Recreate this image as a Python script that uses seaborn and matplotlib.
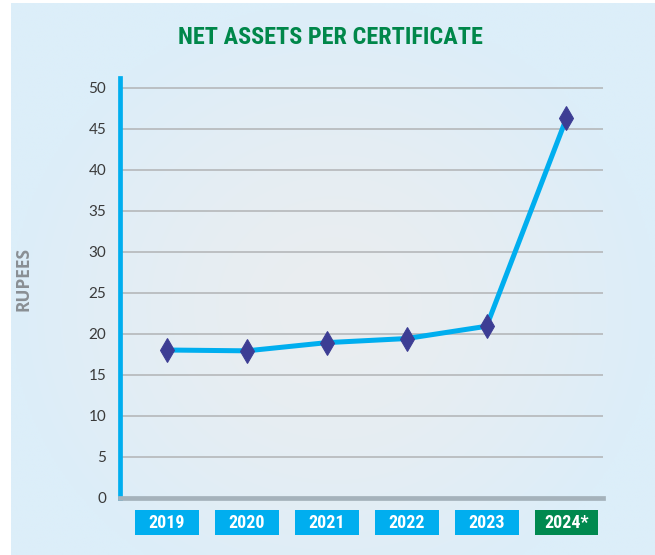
import numpy as np
import matplotlib
matplotlib.use("Agg")
import matplotlib.pyplot as plt
import matplotlib.transforms as mtransforms
from matplotlib.patches import Rectangle
import seaborn as sns
import pandas as pd

# Data
years = ["2019", "2020", "2021", "2022", "2023", "2024*"]
net_assets = [18.0, 17.9, 18.9, 19.4, 20.9, 46.3]
y_ticks = [0, 5, 10, 15, 20, 25, 30, 35, 40, 45, 50]
box_colors = ["#00aeef", "#00aeef", "#00aeef", "#00aeef", "#00aeef", "#00894f"]

df = pd.DataFrame({"Year": years, "Value": net_assets})

sns.set_style("white")
plt.rcParams["font.family"] = ["Lato", "DejaVu Sans"]
narrow = ["Roboto Condensed", "Liberation Sans Narrow", "Roboto", "DejaVu Sans"]

fig = plt.figure(figsize=(6.55, 5.55), dpi=100)
fig.patch.set_facecolor("white")

# Light blue panel with a soft radial glow in the middle
bg = fig.add_axes([11 / 655, 0, 644 / 655, 552 / 555])
h, w = 300, 350
yy, xx = np.mgrid[0:h, 0:w]
r = np.sqrt(((xx - w * 0.5) / (w * 0.5)) ** 2 + ((yy - h * 0.55) / (h * 0.55)) ** 2)
t = np.clip(r, 0, 1) ** 1.5
edge = np.array([0xdc, 0xee, 0xf9]) / 255
centre = np.array([0xea, 0xed, 0xf0]) / 255
img = centre[None, None, :] * (1 - t[..., None]) + edge[None, None, :] * t[..., None]
bg.imshow(img, aspect="auto", interpolation="bilinear")
bg.axis("off")

ax = fig.add_axes([0.1832, 0.1036, 0.7374, 0.7559])
ax.set_facecolor("none")

sns.lineplot(data=df, x="Year", y="Value", ax=ax, color="#00aeef", linewidth=3.6,
             marker="d", markersize=12.5, markerfacecolor="#3d3d94",
             markeredgecolor="#3d3d94", zorder=5)

ax.set_xlim(-0.588, 5.457)
ax.set_ylim(0, 51.2)
ax.set_yticks(y_ticks)
ax.set_yticklabels([str(v) for v in y_ticks], fontsize=11, color="#3a3a3a")
ax.tick_params(axis="y", length=0, pad=10)
ax.tick_params(axis="x", length=0, labelbottom=False)
ax.yaxis.grid(True, color="#b5b8ba", linewidth=1.2)
ax.xaxis.grid(False)
ax.set_axisbelow(True)

for side in ["top", "right"]:
    ax.spines[side].set_visible(False)
ax.spines["left"].set_color("#00aeef")
ax.spines["left"].set_linewidth(3.4)
ax.spines["bottom"].set_color("#a5b2bb")
ax.spines["bottom"].set_linewidth(3.4)
ax.spines["bottom"].set_zorder(6)

ax.set_xlabel("")
ax.set_ylabel("RUPEES", fontsize=12.5, fontweight="bold", color="#8a8f94",
              family=["Open Sans", "DejaVu Sans"])
ax.yaxis.set_label_coords(-0.182, 0.52)

# Year labels in coloured boxes below the axis
trans = mtransforms.blended_transform_factory(ax.transData, ax.transAxes)
for i, (yr, col) in enumerate(zip(years, box_colors)):
    ax.add_patch(Rectangle((i - 0.4, -0.0894), 0.8, 0.0596, transform=trans,
                           facecolor=col, edgecolor="none", clip_on=False))
    ax.text(i, -0.0596, yr, transform=trans, ha="center", va="center",
            color="white", fontsize=13, fontweight="bold", family=narrow)

fig.text(0.504, 0.933, "NET ASSETS PER CERTIFICATE", ha="center", va="center",
         fontsize=17.5, fontweight="bold", color="#00874a", family=narrow)

fig.savefig("out.png", dpi=100)
